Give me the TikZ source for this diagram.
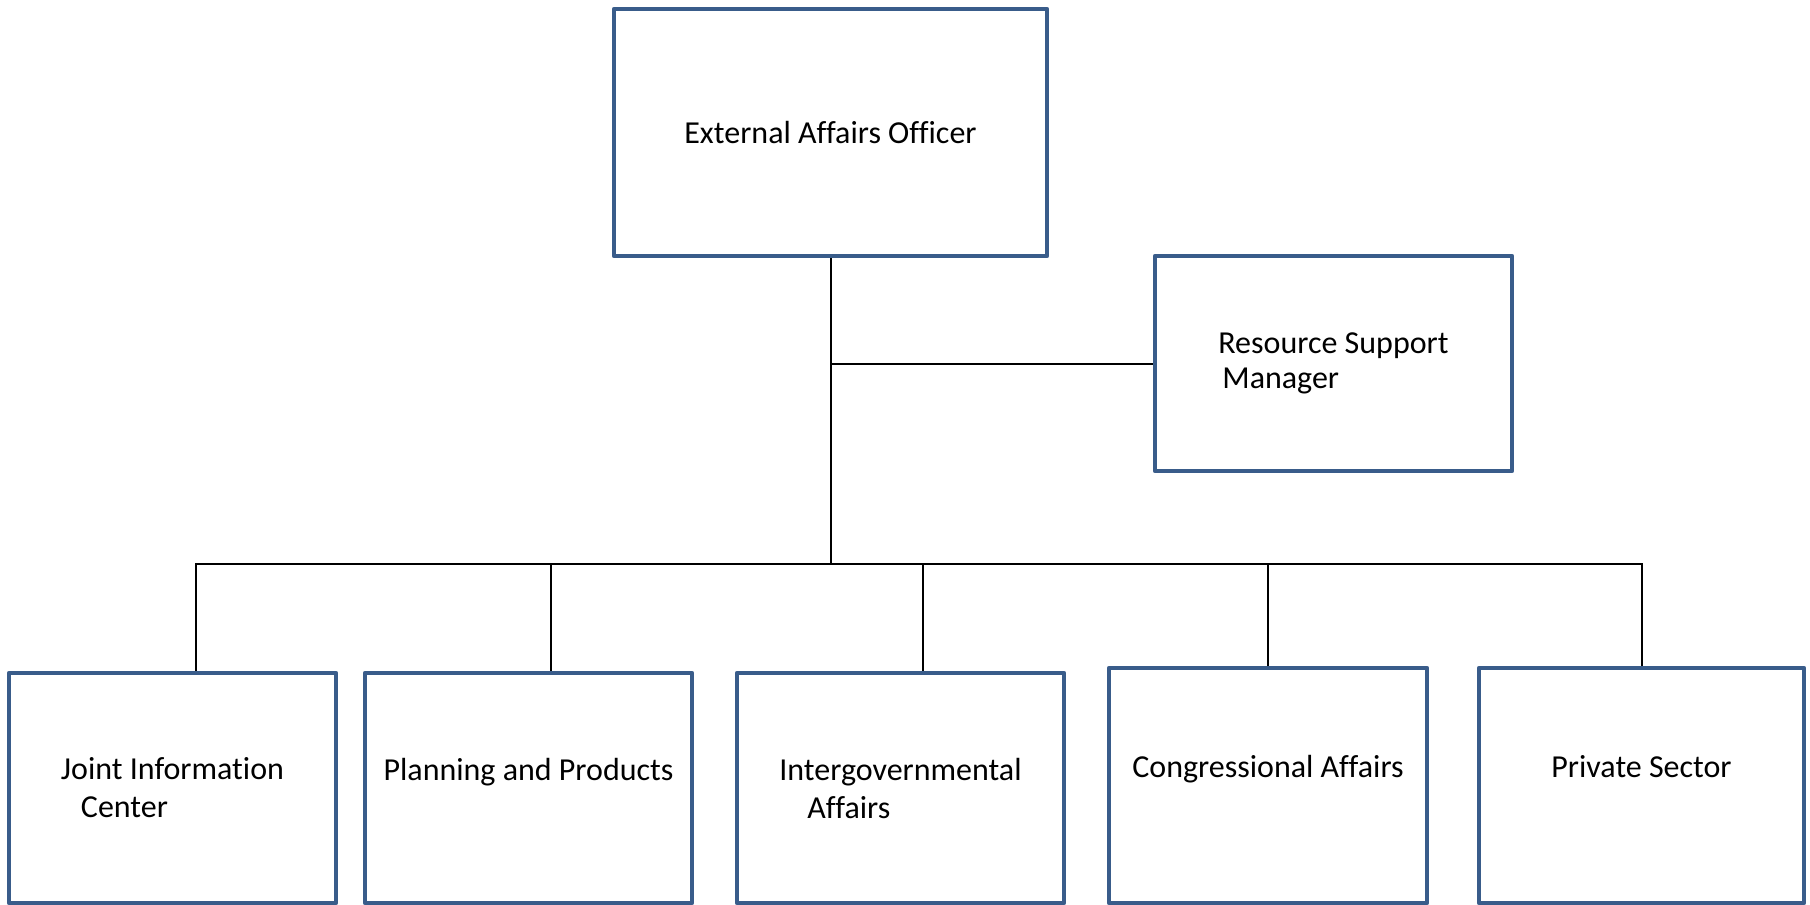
\documentclass[tikz,border=0pt]{standalone}
\usepackage{fontspec}
\setmainfont[Ligatures=NoCommon]{Carlito}
\usepackage{tikz}
\usetikzlibrary{positioning}
\definecolor{boxblue}{RGB}{57,92,138}
\newcommand{\boxfont}{\fontsize{16}{19}\selectfont}

\begin{document}
\begin{tikzpicture}[x=0.5pt,y=-0.5pt,
		box/.style={rectangle,draw=boxblue,line width=2.3pt,line join=round,align=left,font=\boxfont,inner sep=0pt},
		lower box/.style={box,minimum width=163.5pt,minimum height=115pt},
		conn/.style={draw=black,line width=1pt}]
		\useasboundingbox (0,0) rectangle (1810,905);
		
		\node[box,minimum width=216.5pt,minimum height=123.5pt] (eao) at (830.5,132.5) {External Affairs Officer};
		\node[box,minimum width=178.5pt,minimum height=107.5pt] (rsm) at (1333.5,363.5) {Resource Support\\[-1.5pt]\hspace*{2pt}Manager};
		\node[lower box] (jic) at (172.5,788) {Joint Information\\\hspace*{10pt}Center};
		\node[lower box] (pp) at (528.5,788) {Planning and Products\\\mbox{}};
		\node[lower box] (iga) at (900.5,788) {Intergovernmental\\\hspace*{14pt}Affairs};
		\node[lower box,minimum width=159pt,minimum height=117.5pt] (ca) at (1268,785.5) {Congressional Affairs\\\mbox{}};
		\node[lower box,minimum width=162.5pt,minimum height=117.5pt] (ps) at (1641.5,785.5) {Private Sector\\\mbox{}};
		\coordinate (bus) at (830.5,564);
		
		\draw[conn] (eao) -- (bus);
		\draw[conn] (rsm.west) -- (rsm.west -| eao.south);
		\draw[conn] ([xshift=11.75pt]jic.north) |- (bus);
		\draw[conn] ([xshift=11.25pt]pp.north) |- (bus);
		\draw[conn] ([xshift=11.25pt]iga.north) |- (bus);
		\draw[conn] (ca.north) |- (bus);
		\draw[conn] (ps.north) |- (bus);
		
\end{tikzpicture}
\end{document}
